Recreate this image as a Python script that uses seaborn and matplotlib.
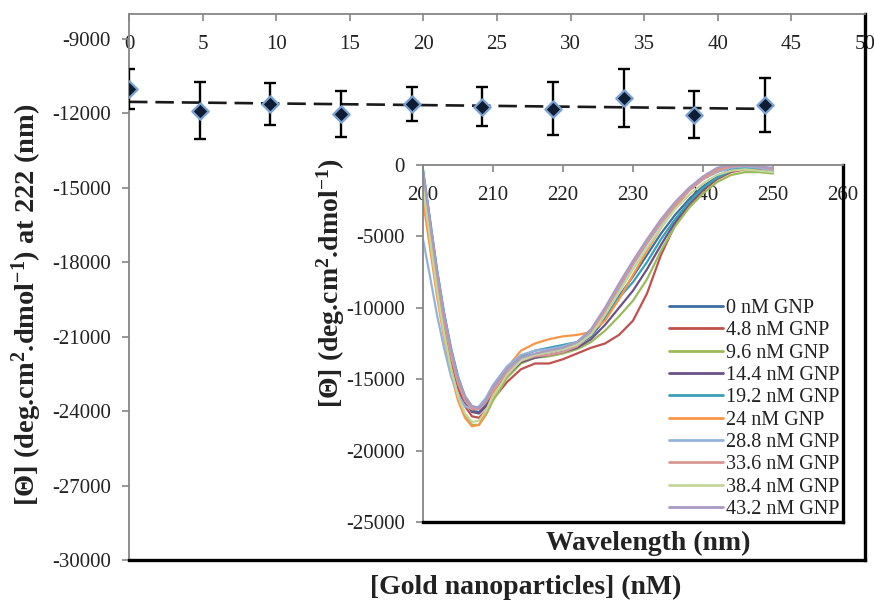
import numpy as np
import pandas as pd
import matplotlib
matplotlib.use("Agg")
import matplotlib.pyplot as plt
import seaborn as sns

# ---------------- data ----------------
conc = [0, 4.8, 9.6, 14.4, 19.2, 24, 28.8, 33.6, 38.4, 43.2]
theta222 = [-11020, -11890, -11620, -12020, -11620, -11730, -11820, -11380, -12050, -11660]
theta222_err = [815, 1130, 850, 930, 680, 800, 1060, 1180, 930, 1085]

main_xticks = [0, 5, 10, 15, 20, 25, 30, 35, 40, 45, 50]
main_yticks = [-30000, -27000, -24000, -21000, -18000, -15000, -12000, -9000]

wavelength = [200, 201, 202, 203, 204, 205, 206, 207, 208, 209, 210, 212, 214, 216, 218,
              220, 222, 224, 226, 228, 230, 232, 234, 236, 238, 240, 242, 244, 246, 248, 250]

cd_0 = [-500, -4000, -7500, -10500, -13000, -15000, -16400, -17200, -17300, -16800, -15900, -14600, -13700, -13300, -13100,
        -12900, -12600, -12000, -10800, -9200, -7800, -6300, -4800, -3500, -2400, -1500, -800, -300, -100, -200, -500]
cd_4_8 = [-800, -4500, -8200, -11200, -13700, -15600, -16900, -17600, -17700, -17200, -16400, -15200, -14300, -13900, -13900,
          -13600, -13200, -12800, -12500, -11900, -10900, -9000, -6300, -4200, -2800, -1800, -1000, -500, -300, -300, -400]
cd_9_6 = [-1200, -5000, -8600, -11600, -14200, -16200, -17500, -18200, -18200, -17500, -16500, -14900, -13900, -13500, -13400,
          -13200, -12900, -12400, -11600, -10600, -9500, -8000, -6000, -4300, -3000, -2000, -1200, -700, -500, -500, -600]
cd_14_4 = [-600, -4200, -7800, -10800, -13300, -15300, -16600, -17300, -17400, -16900, -16000, -14700, -13800, -13500, -13300,
           -13100, -12800, -12200, -11200, -10000, -8800, -7300, -5600, -4000, -2700, -1700, -900, -400, -200, -200, -400]
cd_19_2 = [-300, -3800, -7300, -10300, -12800, -14800, -16200, -16900, -17000, -16500, -15600, -14300, -13400, -13000, -12800,
           -12600, -12400, -11900, -10600, -9300, -8200, -6800, -5200, -3800, -2600, -1600, -900, -400, -200, -200, -400]
cd_24 = [-2500, -5800, -9200, -12100, -14600, -16500, -17700, -18300, -18200, -17300, -16000, -14200, -13000, -12500, -12200,
         -12000, -11900, -11700, -10900, -9400, -7700, -6000, -4400, -3000, -1800, -900, -300, 0, 100, -100, -300]
cd_28_8 = [-5200, -7800, -10500, -12800, -14800, -16100, -16900, -17100, -16900, -16300, -15400, -14100, -13300, -13000, -12900,
           -12700, -12400, -11700, -10300, -8700, -7000, -5500, -4100, -2800, -1800, -1000, -500, -200, -100, -200, -400]
cd_33_6 = [-1000, -4400, -7900, -10900, -13400, -15300, -16500, -17100, -17100, -16600, -15800, -14500, -13700, -13400, -13300,
           -13100, -12700, -11800, -10200, -8500, -6900, -5400, -4000, -2800, -1800, -1000, -400, -100, 0, -100, -300]
cd_38_4 = [-1500, -5200, -8800, -11800, -14300, -16200, -17400, -18000, -17900, -17200, -16200, -14700, -13700, -13300, -13100,
           -12900, -12600, -11900, -10500, -8900, -7300, -5800, -4400, -3100, -2100, -1300, -700, -400, -300, -400, -500]
cd_43_2 = [-400, -3900, -7400, -10400, -12900, -14900, -16200, -16900, -17000, -16500, -15600, -14300, -13500, -13200, -13000,
           -12800, -12400, -11500, -10000, -8300, -6700, -5200, -3800, -2600, -1600, -800, -200, 0, 0, -100, -200]

series_labels = ["0 nM GNP", "4.8 nM GNP", "9.6 nM GNP", "14.4 nM GNP", "19.2 nM GNP",
                 "24 nM GNP", "28.8 nM GNP", "33.6 nM GNP", "38.4 nM GNP", "43.2 nM GNP"]
series_values = [cd_0, cd_4_8, cd_9_6, cd_14_4, cd_19_2, cd_24, cd_28_8, cd_33_6, cd_38_4, cd_43_2]
series_colors = ["#3f6f9f", "#c0504d", "#9bbb59", "#6a5288", "#3aa0b8",
                 "#f79646", "#95b3d7", "#d99694", "#c3d69b", "#a99bc2"]

inset_xticks = [200, 210, 220, 230, 240, 250, 260]
inset_yticks = [-25000, -20000, -15000, -10000, -5000, 0]

# ---------------- style ----------------
sns.set_theme(style="white")
plt.rcParams["font.family"] = ["Liberation Serif", "DejaVu Serif"]
plt.rcParams["mathtext.fontset"] = "custom"
plt.rcParams["mathtext.rm"] = "Liberation Serif"
plt.rcParams["mathtext.bf"] = "Liberation Serif:bold"
plt.rcParams["mathtext.default"] = "bf"

fig = plt.figure(figsize=(8.74, 6.0), dpi=100)
W, H = 874, 600

def axrect(l, t, r, b):
    return [l / W, 1 - b / H, (r - l) / W, (b - t) / H]

gray = "#868686"
txt = "#222222"
TICK_FS = 15
LAB_FS = 20

# ---------------- main axes ----------------
ax = fig.add_axes(axrect(129, 14, 865, 560))
main_df = pd.DataFrame({"conc": conc, "theta": theta222, "err": theta222_err})

ax.errorbar(main_df["conc"], main_df["theta"], yerr=main_df["err"], fmt="none",
            ecolor="black", elinewidth=1.7, capsize=4.5, capthick=1.7, zorder=3)
sns.regplot(data=main_df, x="conc", y="theta", scatter=False, ci=None, truncate=True,
            ax=ax, line_kws=dict(color="#1a1a1a", lw=1.9, ls=(0, (7, 3)), zorder=2))
sns.scatterplot(data=main_df, x="conc", y="theta", marker="D", s=70, color="#0f1d33",
                edgecolor="#7aa2d2", linewidth=1.6, ax=ax, zorder=4)

ax.set_xlim(0, 50)
ax.set_ylim(-30000, -8000)
ax.set_xticks(main_xticks)
ax.set_yticks(main_yticks)
ax.set_xticklabels([str(v) for v in main_xticks])
ax.set_yticklabels([str(v) for v in main_yticks])
ax.xaxis.set_ticks_position("top")
ax.tick_params(axis="x", direction="in", length=5, width=1.2, color=gray, pad=-29,
               labelsize=TICK_FS, labelcolor=txt, top=True, bottom=False)
ax.tick_params(axis="y", direction="out", length=5, width=1.2, color=gray, pad=8,
               labelsize=TICK_FS, labelcolor=txt, left=True)
ax.set_xlabel("")
ax.set_ylabel("")
for s in ["left", "top"]:
    ax.spines[s].set_color(gray)
    ax.spines[s].set_linewidth(1.3)
for s in ["bottom", "right"]:
    ax.spines[s].set_color("black")
    ax.spines[s].set_linewidth(2.4)

fig.text(27 / W, 1 - 305 / H, "[Θ] (deg.cm$^{2}$.dmol$^{-1}$) at 222 (nm)", rotation=90,
         ha="center", va="center", fontsize=LAB_FS + 0.5, fontweight="bold", color=txt)
fig.text(526 / W, 1 - 587 / H, "[Gold nanoparticles] (nM)", ha="center", va="center",
         fontsize=LAB_FS, fontweight="bold", color=txt)

# ---------------- inset ----------------
ins = fig.add_axes(axrect(423, 165, 843, 522))
rows = []
for lab, vals in zip(series_labels, series_values):
    for w, v in zip(wavelength, vals):
        rows.append((lab, w, v))
cd_df = pd.DataFrame(rows, columns=["sample", "wavelength", "theta"])
sns.lineplot(data=cd_df, x="wavelength", y="theta", hue="sample", hue_order=series_labels,
             palette=series_colors, lw=1.6, ax=ins, legend=True)
ins.set_xlim(200, 260)
ins.set_ylim(-25000, 0)
ins.set_xticks(inset_xticks)
ins.set_yticks(inset_yticks)
ins.set_xticklabels([str(v) for v in inset_xticks])
ins.set_yticklabels([str(v) for v in inset_yticks])
ins.xaxis.set_ticks_position("top")
ins.tick_params(axis="x", direction="in", length=5, width=1.2, color=gray, pad=-29,
                labelsize=TICK_FS, labelcolor=txt, top=True, bottom=False)
ins.tick_params(axis="y", direction="out", length=5, width=1.2, color=gray, pad=8,
                labelsize=TICK_FS, labelcolor=txt, left=True)
ins.set_xlabel("")
ins.set_ylabel("")
for s in ["left", "top"]:
    ins.spines[s].set_color(gray)
    ins.spines[s].set_linewidth(1.3)
for s in ["bottom", "right"]:
    ins.spines[s].set_color("black")
    ins.spines[s].set_linewidth(2.4)

leg = ins.legend(loc="lower right", bbox_to_anchor=(1.0, 0.0), frameon=False,
                 fontsize=14.5, handlelength=2.7, handletextpad=0.15, labelspacing=0.16,
                 borderaxespad=0.15, borderpad=0.0)
for t in leg.get_texts():
    t.set_color(txt)
for l in leg.get_lines():
    l.set_linewidth(2.0)

fig.text(331 / W, 1 - 283 / H, "[Θ] (deg.cm$^{2}$.dmol$^{-1}$)", rotation=90,
         ha="center", va="center", fontsize=LAB_FS, fontweight="bold", color=txt)
fig.text(648 / W, 1 - 543 / H, "Wavelength (nm)", ha="center", va="center",
         fontsize=LAB_FS, fontweight="bold", color=txt)

fig.savefig("out.png", dpi=100)
